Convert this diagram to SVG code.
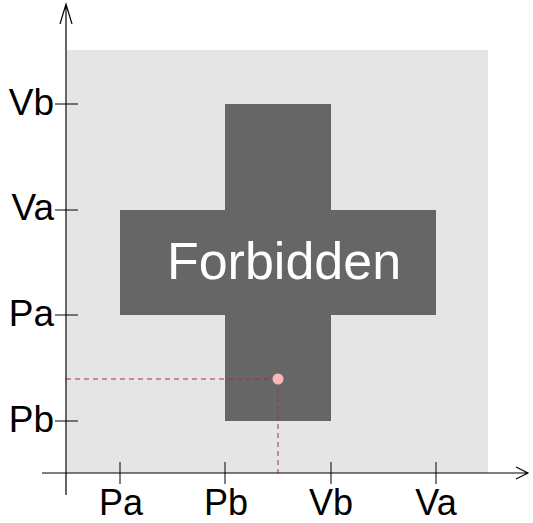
<svg xmlns="http://www.w3.org/2000/svg" width="533" height="523" viewBox="0 0 533 523">
<style>
.ax{stroke:#000;stroke-width:1.2;fill:none}
.tk{stroke:#000;stroke-width:1}
.lbl{font-family:"Liberation Sans",Arial,sans-serif;font-size:37px;fill:#000}
.bl{font-size:36px}
.dash{stroke:#b02a35;stroke-width:1;stroke-dasharray:5,4;fill:none}
</style>
<rect id="region" x="67" y="50" width="421" height="423" fill="#e5e5e5"/>
<g id="forbidden">
<rect x="225" y="104" width="106" height="317" fill="#666"/>
<rect x="120" y="210" width="316" height="105" fill="#666"/>
<text x="284" y="279" text-anchor="middle" font-family="Liberation Sans,Arial,sans-serif" font-size="52" fill="#fff">Forbidden</text>
</g>
<g id="connectors">
<path class="dash" d="M66,379 H278 M278,379 V473"/>
<path class="ax" d="M66,495 V4 M60,24 L66,4 L72,24"/>
<path class="ax" d="M42,473 H528 M516,467 L528,473 L516,479"/>
<path class="tk" d="M120,462 V484 M225,462 V484 M331,462 V484 M436,462 V484"/>
<path class="tk" d="M55,104 H78 M55,210 H78 M55,315 H78 M55,421 H78"/>
</g>
<g id="point"><circle cx="278" cy="379" r="5.5" fill="#ffb6b6"/></g>
<g id="ylabels">
<text x="54" y="115" class="lbl" text-anchor="end">Vb</text>
<text x="54" y="220" class="lbl" text-anchor="end">Va</text>
<text x="54" y="326" class="lbl" text-anchor="end">Pa</text>
<text x="54" y="432" class="lbl" text-anchor="end">Pb</text>
</g>
<g id="xlabels">
<text x="121" y="515" class="lbl bl" text-anchor="middle">Pa</text>
<text x="226" y="515" class="lbl bl" text-anchor="middle">Pb</text>
<text x="331" y="515" class="lbl bl" text-anchor="middle">Vb</text>
<text x="436" y="515" class="lbl bl" text-anchor="middle">Va</text>
</g>
</svg>
